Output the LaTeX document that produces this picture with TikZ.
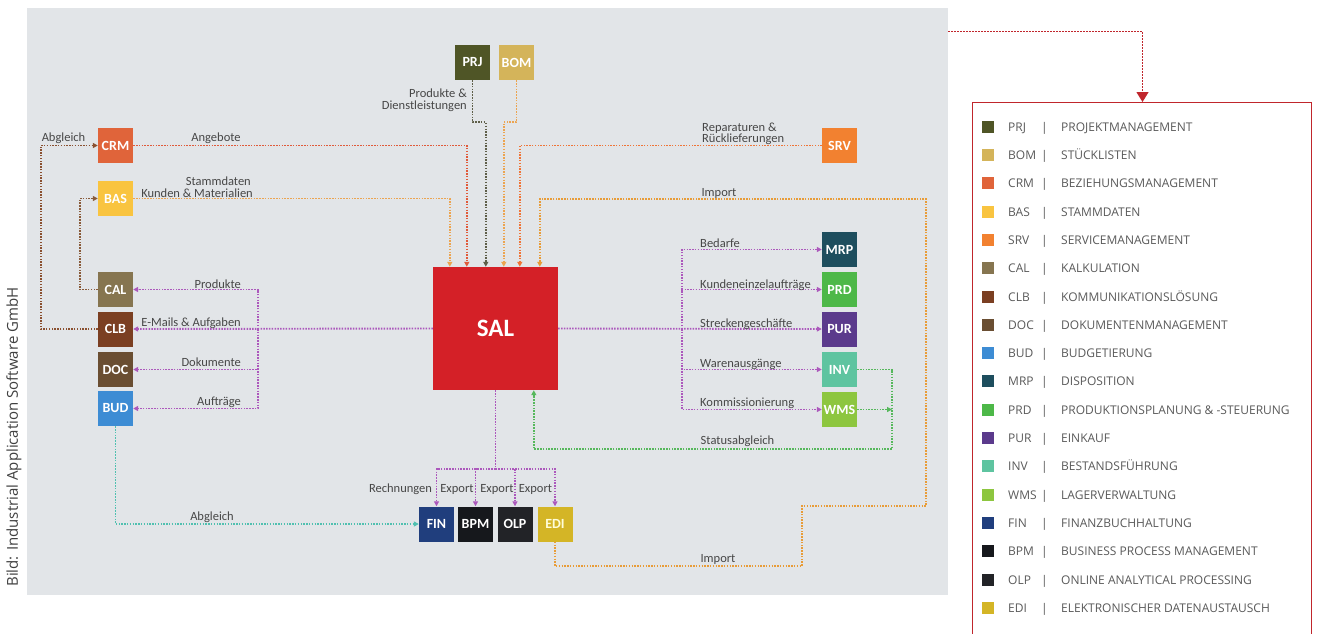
\documentclass[tikz,border=0pt]{standalone}
\usepackage{fontspec}
\setmainfont{Carlito}
\newfontfamily\legfont{Open Sans}
\usetikzlibrary{arrows.meta}
\definecolor{panel}{HTML}{E2E5E8}
\definecolor{cPRJ}{HTML}{4F5526}
\definecolor{cBOM}{HTML}{D4B45A}
\definecolor{cCRM}{HTML}{E0643A}
\definecolor{cBAS}{HTML}{F9C440}
\definecolor{cSRV}{HTML}{F28130}
\definecolor{cCAL}{HTML}{867550}
\definecolor{cCLB}{HTML}{7B3F22}
\definecolor{cDOC}{HTML}{6A4E32}
\definecolor{cBUD}{HTML}{3D8CD4}
\definecolor{cMRP}{HTML}{1E4E5E}
\definecolor{cPRD}{HTML}{4DB848}
\definecolor{cPUR}{HTML}{5B3A8C}
\definecolor{cINV}{HTML}{5EC4A0}
\definecolor{cWMS}{HTML}{8DC63F}
\definecolor{cFIN}{HTML}{203E7D}
\definecolor{cBPM}{HTML}{16181C}
\definecolor{cOLP}{HTML}{222327}
\definecolor{cEDI}{HTML}{D4B526}
\definecolor{cSAL}{HTML}{D42027}
\definecolor{lpurple}{HTML}{AC58BC}
\definecolor{lgreen}{HTML}{56B85C}
\definecolor{lteal}{HTML}{50C0B0}
\definecolor{lorangeA}{HTML}{ECA450}
\definecolor{lred}{HTML}{E05A3A}
\definecolor{lorangeB}{HTML}{F07436}
\definecolor{limport}{HTML}{E89C38}
\definecolor{lbrown}{HTML}{8A5030}
\definecolor{lolive}{HTML}{5E5E48}
\definecolor{legred}{HTML}{C0262C}
\definecolor{txt}{HTML}{474747}
\definecolor{legtxt}{HTML}{5A5A5A}
\begin{document}
\begin{tikzpicture}[x=1pt,y=-1pt,
  mod/.style={minimum size=35pt, inner sep=0pt, text=white, font=\fontsize{14}{16}\selectfont\bfseries},
  con/.style={line width=1.9pt, dash pattern=on 1.5pt off 1.3pt},
  arr/.style={-{Triangle[length=5pt,width=5pt]}},
  lab/.style={inner sep=0pt, text=txt, font=\fontsize{12.5}{14}\selectfont},
  leg/.style={inner sep=0pt, text=legtxt, font=\legfont\fontsize{12}{14}\selectfont, anchor=base west}]
\useasboundingbox (0,0) rectangle (1317,633);
\clip (0,0) rectangle (1317,633);
\fill[white] (0,0) rectangle (1317,633);
\fill[panel] (27,8) rectangle (948,595);

% modules
\node[mod, fill=cPRJ] (prj) at (472.5,62.5) {PRJ};
\node[mod, fill=cBOM] (bom) at (516.5,62.5) {BOM};
\node[mod, fill=cCRM] (crm) at (115.5,145.5) {CRM};
\node[mod, fill=cBAS] (bas) at (115.5,198.5) {BAS};
\node[mod, fill=cCAL] (cal) at (115.5,289.5) {CAL};
\node[mod, fill=cCLB] (clb) at (115.5,329) {CLB};
\node[mod, fill=cDOC] (doc) at (115.5,369.5) {DOC};
\node[mod, fill=cBUD] (bud) at (115.5,408.5) {BUD};
\node[mod, fill=cSRV] (srv) at (839.5,145.5) {SRV};
\node[mod, fill=cMRP] (mrp) at (839.5,249.5) {MRP};
\node[mod, fill=cPRD] (prd) at (839.5,289.5) {PRD};
\node[mod, fill=cPUR] (pur) at (839.5,329) {PUR};
\node[mod, fill=cINV] (inv) at (839.5,369.5) {INV};
\node[mod, fill=cWMS] (wms) at (839.5,409.5) {WMS};
\node[mod, fill=cFIN] (fin) at (436.5,524) {FIN};
\node[mod, fill=cBPM] (bpm) at (475.5,524) {BPM};
\node[mod, fill=cOLP] (olp) at (515,524) {OLP};
\node[mod, fill=cEDI, text=white!85!yellow] (edi) at (555,524) {EDI};
\node[minimum width=125pt, minimum height=123pt, inner sep=0pt, fill=cSAL, text=white,
      font=\fontsize{25}{27}\selectfont\bfseries] (sal) at (495.5,328.5) {SAL};

% top inputs into SAL
\draw[con, lorangeA, arr] (bas.east) -| ([xshift=17pt]sal.north west);
\draw[con, lred, arr] (crm.east) -| ([xshift=34pt]sal.north west);
\draw[con, lolive, arr] (prj.south) -- ++(0,42) -| ([xshift=53pt]sal.north west);
\draw[con, lorangeA, arr] (bom.south) -- ++(0,42) -| ([xshift=71pt]sal.north west);
\draw[con, lorangeB, arr] (srv.west) -| ([xshift=87pt]sal.north west);
\coordinate (i1) at (802,566);
\coordinate (i2) at (926,506);
\coordinate (i3) at (926,199);
\draw[con, limport, arr] (edi.south) |- (i1) |- (i2) -- (i3) -| ([xshift=107pt]sal.north west);

% left side
\draw[con, lbrown, arr] (clb.west) -- ++(-57,0) |- (crm.west);
\draw[con, lbrown!70!cCAL, arr] (cal.west) -- ++(-18,0) |- (bas.west);
\draw[con, lpurple, arr] (sal.west) -- (clb.east);
\coordinate (lb) at (258,329);
\draw[con, lpurple, arr] (lb) |- (cal.east);
\draw[con, lpurple, arr] (lb) |- (doc.east);
\draw[con, lpurple, arr] (lb) |- (bud.east);

% right side
\draw[con, lpurple, arr] (sal.east) -- (pur.west);
\coordinate (rb) at (682,329);
\draw[con, lpurple, arr] (rb) |- (mrp.west);
\draw[con, lpurple, arr] (rb) |- (prd.west);
\draw[con, lpurple, arr] (rb) |- (inv.west);
\draw[con, lpurple, arr] (rb) |- (wms.west);
\coordinate (gc) at (892,449);
\draw[con, lgreen, arr] (inv.east) -| (gc) -| ([xshift=101pt]sal.south west);
\draw[con, lgreen, arr] (wms.east) -- (wms.east -| gc);

% bottom
\coordinate (bc) at (495.5,469);
\draw[con, lpurple] (sal.south) -- (bc);
\draw[con, lpurple, arr] (bc) -| (fin.north);
\draw[con, lpurple, arr] (bc) -| (bpm.north);
\draw[con, lpurple, arr] (bc) -| (olp.north);
\draw[con, lpurple, arr] (bc) -| (edi.north);
\draw[con, lteal, arr] (bud.south) |- (fin.west);

% labels
\node[lab, anchor=base] (t1) at (63.5,141) {Abgleich};
\node[lab, anchor=base] (t2) at (216,141) {Angebote};
\node[lab, anchor=base east] (t3) at (251,185) {Stammdaten};
\node[lab, anchor=base east] (t4) at (253,197) {Kunden \& Materialien};
\node[lab, anchor=base east] (t5) at (467,97) {Produkte \&};
\node[lab, anchor=base east] (t6) at (467,109) {Dienstleistungen};
\node[lab, anchor=base west] (t7) at (702,131) {Reparaturen \&};
\node[lab, anchor=base west] (t8) at (702,142) {Rücklieferungen};
\node[lab, anchor=base] (t9) at (719,196) {Import};
\node[lab, anchor=base] (t10) at (718,562) {Import};
\node[lab, anchor=base east] (t11) at (241,288) {Produkte};
\node[lab, anchor=base east] (t12) at (241,326) {E-Mails \& Aufgaben};
\node[lab, anchor=base east] (t13) at (241,366) {Dokumente};
\node[lab, anchor=base east] (t14) at (241,405) {Aufträge};
\node[lab, anchor=base west] (t15) at (700,247) {Bedarfe};
\node[lab, anchor=base west] (t16) at (700,288) {Kundeneinzelaufträge};
\node[lab, anchor=base west] (t17) at (700,327) {Streckengeschäfte};
\node[lab, anchor=base west] (t18) at (700,367) {Warenausgänge};
\node[lab, anchor=base west] (t19) at (700,406) {Kommissionierung};
\node[lab, anchor=base] (t20) at (737.5,444) {Statusabgleich};
\node[lab, anchor=base] (t21) at (400.5,492) {Rechnungen};
\node[lab, anchor=base] (t22) at (457,492) {Export};
\node[lab, anchor=base] (t23) at (497,492) {Export};
\node[lab, anchor=base] (t24) at (535.5,492) {Export};
\node[lab, anchor=base] (t25) at (212,520) {Abgleich};

% credit
\node[rotate=90, inner sep=0pt, text=black!75, font=\legfont\fontsize{15}{17}\selectfont] (credit) at (14,437) {Bild: Industrial Application Software GmbH};

% legend
\node[draw=legred, line width=1pt, minimum width=339pt, minimum height=600pt, inner sep=0pt, anchor=north west] (legbox) at (972,102) {};
\coordinate (ls) at (948,31.5);
\draw[legred, line width=1.2pt, dash pattern=on 1.5pt off 1.5pt, -{Triangle[length=10pt,width=12pt]}] (ls) -| ([xshift=170.5pt]legbox.north west);
\foreach \ab/\nm/\cl [count=\i from 0] in {PRJ/PROJEKTMANAGEMENT/cPRJ, BOM/STÜCKLISTEN/cBOM, CRM/BEZIEHUNGSMANAGEMENT/cCRM, BAS/STAMMDATEN/cBAS, SRV/SERVICEMANAGEMENT/cSRV, CAL/KALKULATION/cCAL, CLB/KOMMUNIKATIONSLÖSUNG/cCLB, DOC/DOKUMENTENMANAGEMENT/cDOC, BUD/BUDGETIERUNG/cBUD, MRP/DISPOSITION/cMRP, PRD/PRODUKTIONSPLANUNG \& -STEUERUNG/cPRD, PUR/EINKAUF/cPUR, INV/BESTANDSFÜHRUNG/cINV, WMS/LAGERVERWALTUNG/cWMS, FIN/FINANZBUCHHALTUNG/cFIN, BPM/BUSINESS PROCESS MANAGEMENT/cBPM, OLP/ONLINE ANALYTICAL PROCESSING/cOLP, EDI/ELEKTRONISCHER DATENAUSTAUSCH/cEDI}{
  \pgfmathsetmacro{\yy}{126.7+28.3*\i}
  \fill[\cl] (982,\yy-6) rectangle (994,\yy+6);
  \node[leg] (la\i) at (1008,\yy+4.5) {\ab};
  \node[leg] (lp\i) at (1041,\yy+4.5) {|};
  \node[leg] (ln\i) at (1061,\yy+4.5) {\nm};
}
\end{tikzpicture}
\end{document}
